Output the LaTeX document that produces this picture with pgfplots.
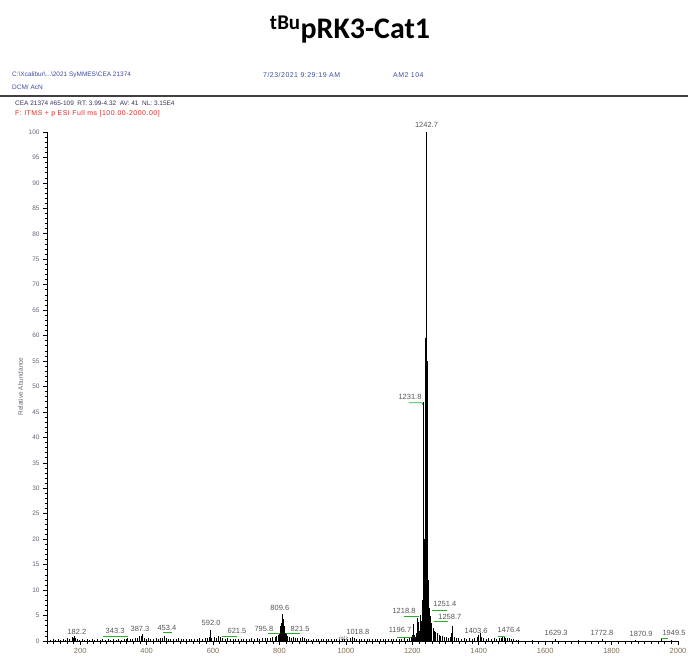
\documentclass[border=0pt]{standalone}
\usepackage{pgfplots}
\usepackage{pgfplotstable}
\pgfplotsset{compat=1.18}
\usepackage{fontspec}
\setmainfont{Liberation Sans}
\newfontfamily\carlito{Carlito}
\newfontfamily\spaced[LetterSpace=7]{Liberation Sans}

\definecolor{hdrblue}{RGB}{60,75,160}
\definecolor{hdrdark}{RGB}{50,50,90}
\definecolor{hdrred}{RGB}{225,40,40}
\definecolor{peakgray}{RGB}{85,85,85}
\definecolor{xlab}{RGB}{125,110,80}
\definecolor{ylab}{RGB}{100,100,120}
\definecolor{mkgreen}{RGB}{40,175,40}

\pgfplotstableread{
mz y
110 0.2
118 0.3
125 0.1
133 0.4
140 0.2
148 0.3
155 0.2
162 0.5
168 0.3
175 0.7
180 0.6
182.2 0.9
186 0.5
190 0.4
197 0.2
205 0.3
212 0.1
220 0.3
228 0.2
236 0.4
244 0.2
252 0.3
260 0.2
268 0.3
276 0.2
284 0.4
292 0.2
300 0.3
308 0.2
316 0.3
324 0.2
332 0.4
338 0.3
343.3 0.5
350 0.3
358 0.4
366 0.5
372 0.6
378 0.9
383 1.0
387.3 1.3
392 0.6
398 0.4
405 0.5
412 0.3
420 0.4
428 0.5
435 0.4
442 0.6
448 0.5
453.4 1.0
458 0.5
465 0.4
472 0.3
480 0.4
488 0.3
496 0.5
504 0.3
512 0.4
520 0.3
528 0.4
536 0.3
544 0.4
552 0.3
560 0.5
568 0.4
576 0.6
583 0.5
588 0.7
592.0 2.2
596 0.6
603 0.8
610 0.6
615 0.9
621.5 0.7
628 0.5
636 0.4
644 0.5
652 0.4
660 0.3
668 0.4
676 0.3
684 0.4
692 0.3
700 0.4
708 0.3
716 0.5
724 0.4
732 0.5
740 0.4
748 0.6
756 0.5
764 0.6
772 0.5
780 0.7
788 0.8
792 1.0
795.8 1.2
799 1.6
802 2.2
804 3.0
806 3.5
807.5 4.2
809.6 5.3
811 4.3
812.5 3.8
814 3.0
816 2.0
818 1.5
821.5 1.3
825 0.9
830 0.7
836 0.6
842 0.8
848 0.6
855 0.5
862 0.6
870 0.7
876 0.6
882 0.4
888 0.3
895 0.2
902 0.3
910 0.4
918 0.3
925 0.4
932 0.3
940 0.4
948 0.3
956 0.4
964 0.3
972 0.4
980 0.3
988 0.4
996 0.3
1004 0.4
1012 0.5
1018.8 0.8
1024 0.5
1032 0.3
1040 0.4
1048 0.3
1056 0.4
1064 0.3
1072 0.4
1080 0.3
1088 0.4
1096 0.3
1104 0.4
1112 0.3
1120 0.4
1128 0.3
1136 0.4
1144 0.3
1152 0.4
1160 0.3
1168 0.4
1176 0.5
1184 0.4
1190 0.6
1196.7 0.8
1200 1.2
1202.5 3.4
1205 1.2
1209 0.8
1213 1.5
1216 4.5
1218.8 3.8
1221 2.0
1223.5 5.2
1226 3.0
1228 4.0
1229.5 8.0
1231.8 47.0
1233 18.5
1234.5 10.0
1236 20.0
1237.5 12.0
1239 25.0
1240.3 59.5
1241.5 35.0
1242.7 100.0
1243.8 55.0
1245 39.0
1246.2 22.0
1247.5 12.0
1249 8.0
1251.4 6.5
1253 5.0
1255 4.0
1258.7 3.5
1262 2.5
1266 2.0
1270 1.8
1275 1.5
1280 1.2
1285 1.0
1290 0.9
1296 0.8
1302 0.7
1308 0.6
1314 0.8
1317 1.5
1319.5 3.0
1322 1.4
1326 0.8
1332 0.6
1340 0.5
1348 0.4
1356 0.5
1364 0.4
1372 0.5
1380 0.4
1388 0.6
1396 0.8
1400 1.2
1403.6 1.6
1407 0.8
1414 0.5
1422 0.4
1430 0.5
1438 0.4
1446 0.5
1454 0.4
1462 0.6
1468 0.5
1472 0.8
1476.4 1.0
1480 0.6
1486 0.5
1492 0.6
1498 0.4
1504 0.3
1512 0.2
1520 0.1
1560 0.1
1629.3 0.3
1700 0.1
1772.8 0.4
1870.9 0.2
1949.5 0.3
1980 0.1
}\spectrum

\begin{document}
\begin{tikzpicture}
\useasboundingbox (0,0) rectangle (688bp,666bp);

% title and instrument header
\node at (350bp,636bp) {\carlito\bfseries\fontsize{30}{34}\selectfont\textsuperscript{tBu}pRK3-Cat1};
\begin{scope}[every node/.style={anchor=west, inner sep=0pt, font=\fontsize{6.5}{7}\selectfont}]
\node[text=hdrblue] at (12bp,591bp) {C:\textbackslash Xcalibur\textbackslash ...\textbackslash 2021 SyMMES\textbackslash CEA 21374};
\node[text=hdrblue, font=\spaced\fontsize{7}{8}\selectfont] at (263bp,591bp) {7/23/2021 9:29:19 AM};
\node[text=hdrblue, font=\spaced\fontsize{7}{8}\selectfont] at (393bp,591bp) {AM2 104};
\node[text=hdrblue] at (12bp,579bp) {DCM/ AcN};
\node[text=hdrdark] at (15bp,563bp) {CEA 21374 \#65-109\ \ RT: 3.99-4.32\ \ AV: 41\ \ NL: 3.15E4};
\node[text=hdrred, font=\spaced\fontsize{7}{8}\selectfont] at (15bp,552bp) {F: ITMS + p ESI Full ms [100.00-2000.00]};
\end{scope}
\draw[line width=1.5bp, black!75] (0,570bp) -- (688bp,570bp);

\begin{axis}[
    at={(47bp,25bp)}, anchor=south west,
    scale only axis, width=631bp, height=509bp,
    xmin=100, xmax=2000, ymin=0, ymax=100,
    axis lines*=left,
    axis line style={black, line width=1pt},
    clip=false,
    xtick={200,400,...,2000},
    minor xtick={100,120,...,2000},
    ytick={0,5,...,100},
    minor ytick={0,1,...,100},
    tick align=outside,
    major tick length=4bp, minor tick length=2.5bp,
    every tick/.style={black, line width=0.6pt},
    xticklabel style={text=xlab, font=\fontsize{7.5}{8}\selectfont},
    yticklabel style={text=ylab, font=\fontsize{6.5}{7}\selectfont},
    /pgf/number format/assume math mode=true,
    /pgf/number format/1000 sep={},
    xlabel={m/z}, ylabel={Relative Abundance},
    xlabel style={text=ylab, font=\fontsize{6}{7}\selectfont, at={(axis description cs:0.47,0)}, yshift=8bp},
    ylabel style={text=ylab, font=\fontsize{6.5}{7}\selectfont, yshift=-1bp},
]
\addplot[ycomb, black, line width=0.7pt, no markers] table[x=mz, y=y] {\spectrum};

% peak annotations
\begin{scope}[every node/.style={text=peakgray, font=\fontsize{7.5}{8}\selectfont, inner sep=0pt}]
\node[anchor=south] at (axis cs:1242.7,100.8) {1242.7};
\node at (axis cs:1193,48.0) {1231.8};
\node at (axis cs:801,6.5) {809.6};
\node at (axis cs:594,3.5) {592.0};
\node at (axis cs:380,2.4) {387.3};
\node at (axis cs:461,2.5) {453.4};
\node at (axis cs:305,2.0) {343.3};
\node at (axis cs:190,1.8) {182.2};
\node at (axis cs:672,1.9) {621.5};
\node at (axis cs:753,2.3) {795.8};
\node at (axis cs:862,2.3) {821.5};
\node at (axis cs:1036,1.8) {1018.8};
\node at (axis cs:1163,2.2) {1196.7};
\node at (axis cs:1175,6.0) {1218.8};
\node at (axis cs:1298,7.2) {1251.4};
\node at (axis cs:1313,4.8) {1258.7};
\node at (axis cs:1392,2.0) {1403.6};
\node at (axis cs:1491,2.2) {1476.4};
\node at (axis cs:1633,1.6) {1629.3};
\node at (axis cs:1771,1.6) {1772.8};
\node at (axis cs:1889,1.4) {1870.9};
\node at (axis cs:1988,1.5) {1949.5};
\end{scope}
\begin{scope}[mkgreen, line width=0.8pt]
\draw (axis cs:269,1.0) -- (axis cs:344,1.0);
\draw (axis cs:449,1.6) -- (axis cs:476,1.6);
\draw (axis cs:627,1.0) -- (axis cs:672,1.0);
\draw (axis cs:765,1.4) -- (axis cs:801,1.4);
\draw (axis cs:820,1.4) -- (axis cs:862,1.4);
\draw (axis cs:1154,0.8) -- (axis cs:1196,0.8);
\draw (axis cs:1175,4.9) -- (axis cs:1220,4.9);
\draw (axis cs:1190,46.8) -- (axis cs:1229,46.8) -- (axis cs:1231.8,46.4);
\draw (axis cs:1259,6.1) -- (axis cs:1304,6.1);
\draw (axis cs:1265,3.9) -- (axis cs:1307,3.9);
\draw (axis cs:1458,1.0) -- (axis cs:1479,1.0);
\draw (axis cs:1949,0.6) -- (axis cs:1970,0.6);
\end{scope}
\end{axis}
\end{tikzpicture}
\end{document}
